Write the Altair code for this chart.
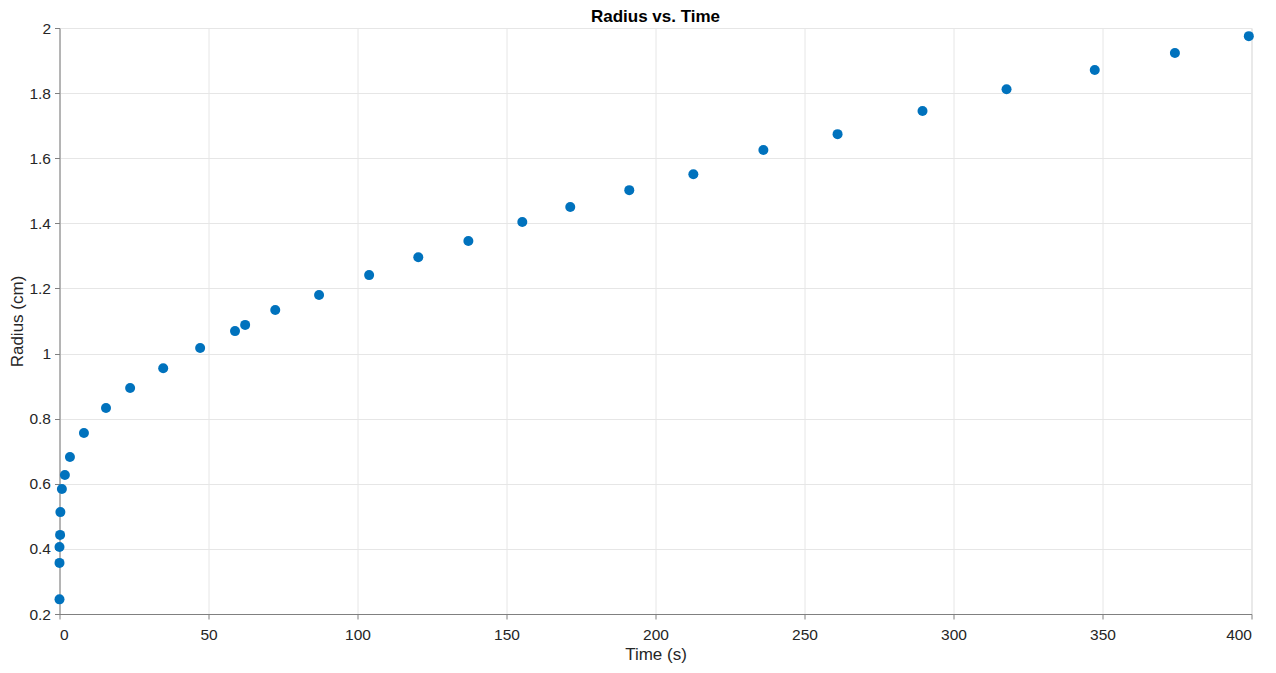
import altair as alt
import pandas as pd

time_s = [0, 0, 0, 0.2, 0.3, 0.8, 1.8, 3.5, 8.2, 15.6, 23.7, 34.8, 47.2, 58.9, 62.3,
          72.4, 87.1, 103.9, 120.4, 137.2, 155.3, 171.4, 191.2, 212.7, 236.2,
          261.1, 289.6, 317.8, 347.4, 374.3, 399.1]
radius_cm = [0.245, 0.357, 0.406, 0.443, 0.513, 0.584, 0.627, 0.682, 0.756, 0.833,
             0.894, 0.955, 1.017, 1.069, 1.088, 1.134, 1.180, 1.241, 1.296, 1.346,
             1.404, 1.450, 1.502, 1.551, 1.625, 1.674, 1.745, 1.812, 1.871, 1.923,
             1.975]
x_ticks = [0, 50, 100, 150, 200, 250, 300, 350, 400]
y_ticks = [0.2, 0.4, 0.6, 0.8, 1.0, 1.2, 1.4, 1.6, 1.8, 2.0]

df = pd.DataFrame({"t": time_s, "r": radius_cm})

font = "Liberation Sans"
axis_common = dict(
    gridColor="#e6e6e6", gridOpacity=1, domainColor="#808080", tickColor="#808080",
    tickSize=5, labelFont=font, labelFontSize=15.5, labelColor="#262626",
    titleFont=font, titleFontSize=17, titleColor="#262626", titleFontWeight="normal",
)

chart = alt.Chart(df).mark_circle(size=100, opacity=1, color="#0072BD").encode(
    x=alt.X("t:Q", title="Time (s)",
            scale=alt.Scale(domain=[0, 400], nice=False, zero=False),
            axis=alt.Axis(values=x_ticks, format="d", labelPadding=8, titlePadding=4,
                          **axis_common)),
    y=alt.Y("r:Q", title="Radius (cm)",
            scale=alt.Scale(domain=[0.2, 2.0], nice=False, zero=False),
            axis=alt.Axis(values=y_ticks, format="~g", labelPadding=4, titlePadding=2,
                          **axis_common)),
).properties(
    width=1192, height=586,
    title=alt.TitleParams("Radius vs. Time", font=font, fontSize=17, fontWeight="bold",
                          color="#000000", offset=-5, anchor="middle"),
    autosize=alt.AutoSizeParams(type="none"),
    padding={"left": 51.5, "top": 20, "right": 15, "bottom": 51},
).configure_view(stroke="#d9d9d9", strokeWidth=1)

chart.save("out.html", embed_options={"renderer": "svg", "actions": False})
